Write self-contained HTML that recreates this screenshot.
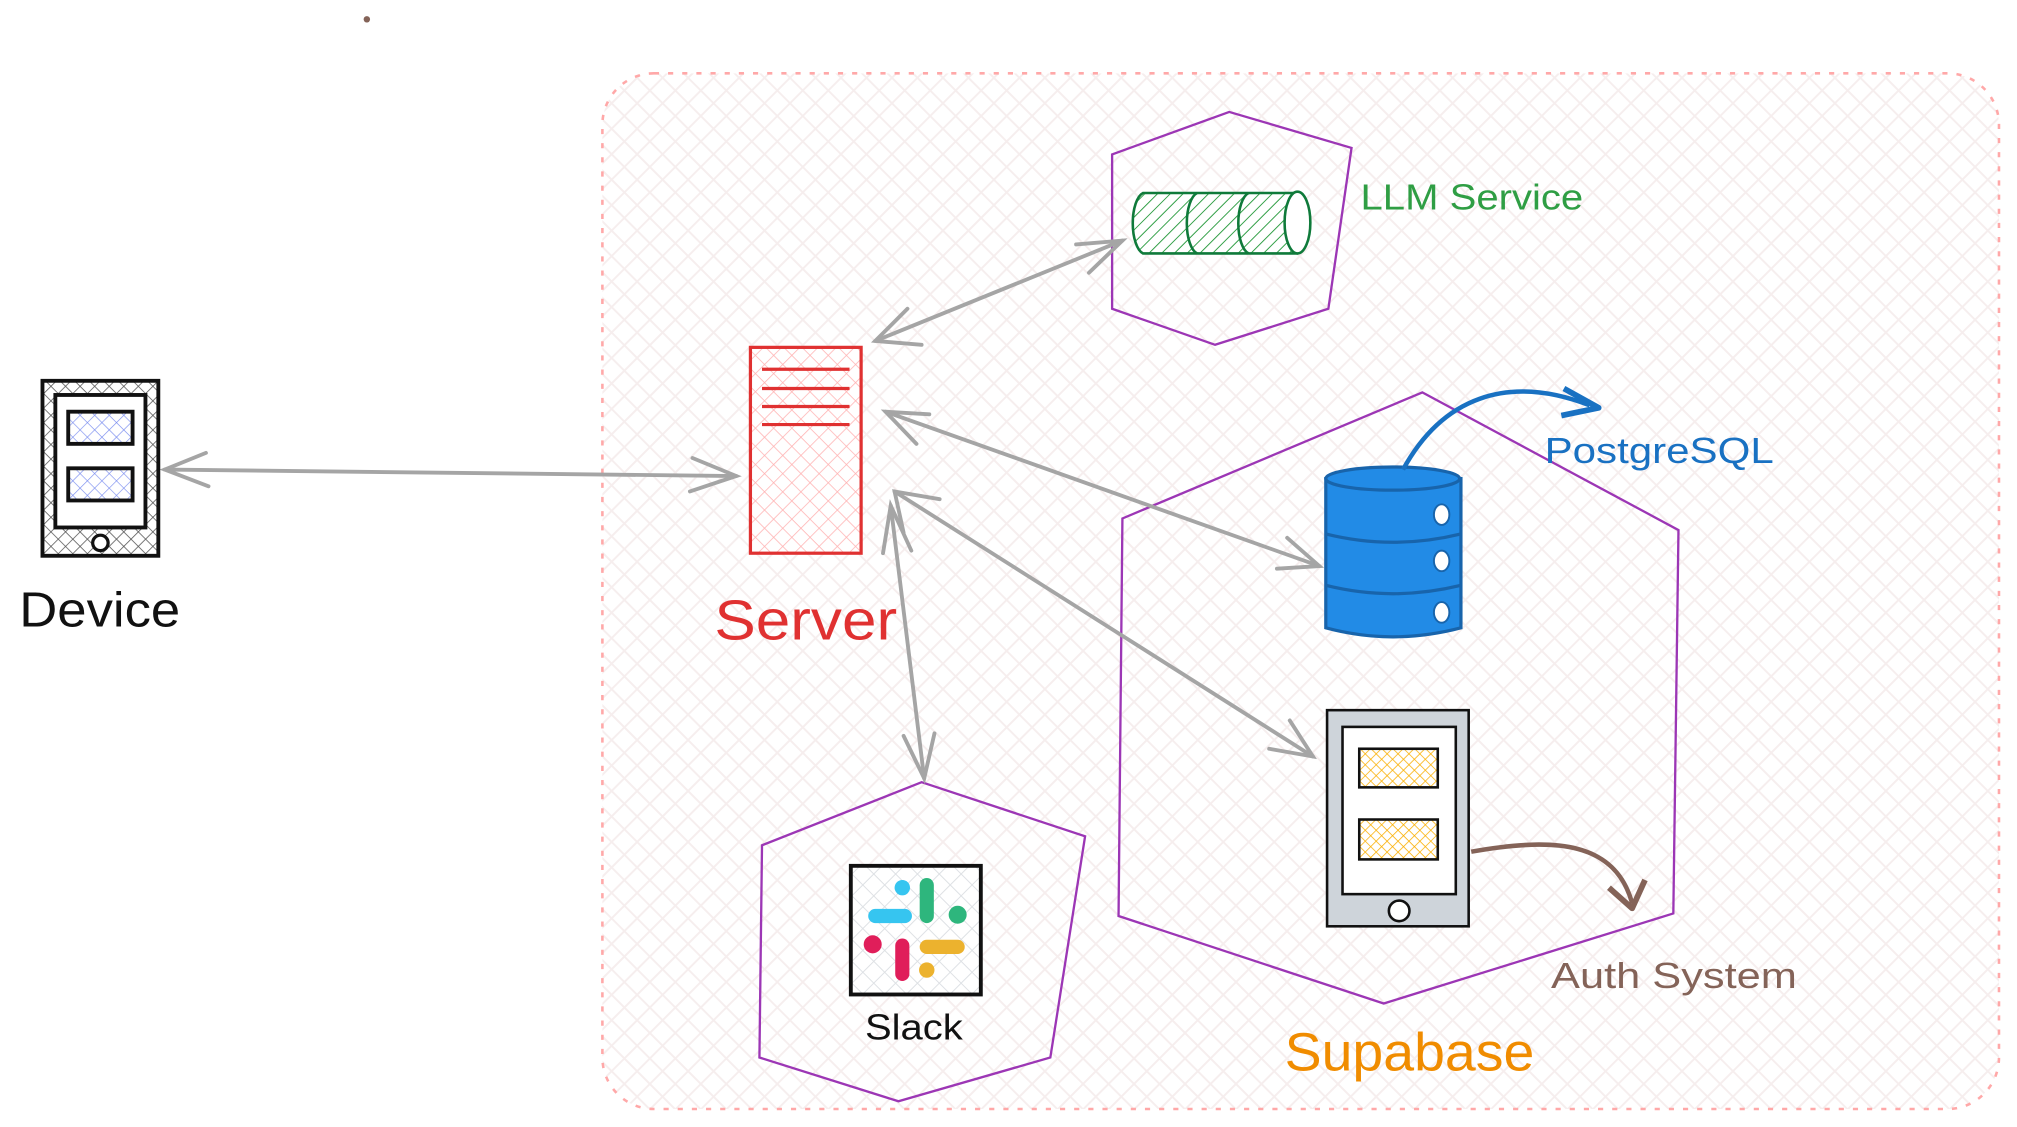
<!DOCTYPE html>
<html><head><meta charset="utf-8"><style>
html,body{margin:0;padding:0;background:#fff;width:2017px;height:1127px;overflow:hidden}
svg{display:block}
text{font-family:"Liberation Sans",sans-serif}
</style></head><body>
<svg width="2017" height="1127" viewBox="0 0 1567 876" preserveAspectRatio="none" xmlns="http://www.w3.org/2000/svg">
<defs>
<pattern id="bg" width="14" height="14" patternUnits="userSpaceOnUse" patternTransform="rotate(45)">
<rect width="14" height="14" fill="#fff"/>
<line x1="0" y1="0" x2="0" y2="14" stroke="#f6eeee" stroke-width="3"/>
<line x1="0" y1="0" x2="14" y2="0" stroke="#f6eeee" stroke-width="3"/>
</pattern>
<pattern id="red" width="10" height="10" patternUnits="userSpaceOnUse" patternTransform="rotate(45)">
<rect width="10" height="10" fill="#fff"/>
<line x1="0" y1="0" x2="0" y2="10" stroke="#ffb3b3" stroke-width="1.2"/>
<line x1="0" y1="0" x2="10" y2="0" stroke="#ffb3b3" stroke-width="1.2"/>
</pattern>
<pattern id="blk" width="8" height="8" patternUnits="userSpaceOnUse" patternTransform="rotate(45)">
<rect width="8" height="8" fill="#fff"/>
<line x1="0" y1="0" x2="0" y2="8" stroke="#555" stroke-width="1.2"/>
<line x1="0" y1="0" x2="8" y2="0" stroke="#555" stroke-width="1.2"/>
</pattern>
<pattern id="blu" width="8" height="8" patternUnits="userSpaceOnUse" patternTransform="rotate(45)">
<rect width="8" height="8" fill="#fff"/>
<line x1="0" y1="0" x2="0" y2="8" stroke="#7b8ef0" stroke-width="1"/>
<line x1="0" y1="0" x2="8" y2="0" stroke="#7b8ef0" stroke-width="1"/>
</pattern>
<pattern id="org" width="6" height="6" patternUnits="userSpaceOnUse" patternTransform="rotate(45)">
<rect width="6" height="6" fill="#fff"/>
<line x1="0" y1="0" x2="0" y2="6" stroke="#fab005" stroke-width="1.2"/>
<line x1="0" y1="0" x2="6" y2="0" stroke="#fab005" stroke-width="1.2"/>
</pattern>
<pattern id="grn" width="7" height="7" patternUnits="userSpaceOnUse" patternTransform="rotate(45)">
<rect width="7" height="7" fill="#fff"/>
<line x1="0" y1="0" x2="0" y2="7" stroke="#2f9e44" stroke-width="1.5"/>
</pattern>
<pattern id="gry" width="12" height="12" patternUnits="userSpaceOnUse" patternTransform="rotate(45)">
<rect width="12" height="12" fill="#fff"/>
<line x1="0" y1="0" x2="0" y2="12" stroke="#dde0e4" stroke-width="1.5"/>
<line x1="0" y1="0" x2="12" y2="0" stroke="#dde0e4" stroke-width="1.5"/>
</pattern>
</defs>
<circle cx="285" cy="15" r="2.5" fill="#846358"/>
<rect x="468" y="57" width="1085" height="805" rx="40" fill="url(#bg)" stroke="#ffa8a8" stroke-width="2" stroke-dasharray="4 7"/>

<g fill="none" stroke="#9c36b5" stroke-width="1.8">
<polygon points="955,87 1050,115 1032,240 944,268 864,240 864,120"/>
<polygon points="1105,305 1304,412 1300,710 1075,780 869,712 872,403"/>
<polygon points="716,608 843,650 816,822 698,856 590,822 592,657"/>
</g>

<g stroke="#a5a5a5" stroke-width="3" fill="none" stroke-linecap="round">
<path d="M128,365 L572,370"/><path d="M160,352 L128,365 L162,378"/><path d="M538,356 L572,370 L536,382"/>
<path d="M680,265 L872,187"/><path d="M716,268 L680,265 L705,240"/><path d="M836,190 L872,187 L846,212"/>
<path d="M688,320 L1025,440"/><path d="M712,345 L688,320 L722,322"/><path d="M1000,418 L1025,440 L992,442"/>
<path d="M695,382 L1020,588"/><path d="M702,414 L695,382 L730,388"/><path d="M1002,560 L1020,588 L986,582"/>
<path d="M692,393 L718,605"/><path d="M686,430 L692,393 L708,428"/><path d="M702,572 L718,605 L726,570"/>
</g>

<g stroke="#0f7a3a" stroke-width="2" fill="url(#grn)">
<path d="M888,150 L1008,150 A10,24 0 0 1 1008,197 L888,197 A10,24 0 0 1 888,150 Z"/>
<path d="M930,150 A10,24 0 0 0 930,197" fill="none"/>
<path d="M970,150 A10,24 0 0 0 970,197" fill="none"/>
<ellipse cx="1008" cy="173" rx="10" ry="24" fill="#fff"/>
</g>
<text x="1057" y="163" font-size="28" fill="#2f9e44" textLength="173" lengthAdjust="spacingAndGlyphs">LLM Service</text>

<rect x="583" y="270" width="86" height="160" fill="url(#red)" stroke="#e03131" stroke-width="2.5"/>
<g stroke="#e03131" stroke-width="2.5"><line x1="592" y1="287" x2="660" y2="287"/><line x1="592" y1="302" x2="660" y2="302"/><line x1="592" y1="316" x2="660" y2="316"/><line x1="592" y1="330" x2="660" y2="330"/></g>
<text x="555" y="497" font-size="44" fill="#e03131" textLength="142" lengthAdjust="spacingAndGlyphs">Server</text>

<rect x="33" y="296" width="90" height="136" fill="url(#blk)" stroke="#111" stroke-width="3"/>
<rect x="43" y="307" width="70" height="103" fill="#fff" stroke="#111" stroke-width="3"/>
<rect x="53" y="320" width="50" height="25" fill="url(#blu)" stroke="#111" stroke-width="3"/>
<rect x="53" y="364" width="50" height="25" fill="url(#blu)" stroke="#111" stroke-width="3"/>
<circle cx="78" cy="422" r="6" fill="#fff" stroke="#111" stroke-width="2.5"/>
<text x="15" y="487" font-size="38" fill="#111" textLength="125" lengthAdjust="spacingAndGlyphs">Device</text>

<g stroke="#1864ab" stroke-width="2.5" fill="#228be6">
<path d="M1030,372 L1030,488 Q1082,502 1135,488 L1135,372 Z"/>
<ellipse cx="1082" cy="372" rx="52" ry="9"/>
<path d="M1030,415 Q1082,428 1135,415" fill="none"/>
<path d="M1030,455 Q1082,468 1135,455" fill="none"/>
</g>
<g fill="#fff" stroke="#1864ab" stroke-width="1.5"><ellipse cx="1120" cy="400" rx="6" ry="8"/><ellipse cx="1120" cy="436" rx="6" ry="8"/><ellipse cx="1120" cy="476" rx="6" ry="8"/></g>
<path d="M1090,365 C1120,310 1170,290 1235,315" stroke="#1971c2" stroke-width="3.5" fill="none"/>
<path d="M1215,302 L1242,317 L1213,323" stroke="#1971c2" stroke-width="4.5" fill="none" stroke-linejoin="round"/>
<text x="1200" y="360" font-size="28" fill="#1971c2" textLength="178" lengthAdjust="spacingAndGlyphs">PostgreSQL</text>

<rect x="1031" y="552" width="110" height="168" fill="#ced4da" stroke="#111" stroke-width="2"/>
<rect x="1043" y="565" width="88" height="130" fill="#fff" stroke="#111" stroke-width="2"/>
<rect x="1056" y="582" width="61" height="30" fill="url(#org)" stroke="#111" stroke-width="2"/>
<rect x="1056" y="637" width="61" height="31" fill="url(#org)" stroke="#111" stroke-width="2"/>
<circle cx="1087" cy="708" r="8" fill="#fff" stroke="#111" stroke-width="2"/>
<path d="M1143,662 C1210,650 1255,655 1268,702" stroke="#846358" stroke-width="3.5" fill="none"/>
<path d="M1250,690 L1268,706 L1278,684" stroke="#846358" stroke-width="4.5" fill="none" stroke-linejoin="round"/>
<text x="1205" y="768" font-size="28" fill="#846358" textLength="191" lengthAdjust="spacingAndGlyphs">Auth System</text>
<text x="998" y="832" font-size="42" fill="#f08c00" textLength="194" lengthAdjust="spacingAndGlyphs">Supabase</text>

<rect x="661" y="673" width="101" height="100" fill="url(#gry)" stroke="#111" stroke-width="3"/>
<g stroke-linecap="round" fill="none" stroke-width="11">
<line x1="680" y1="712" x2="703" y2="712" stroke="#36c5f0"/>
<line x1="720" y1="688" x2="720" y2="712" stroke="#2eb67d"/>
<line x1="720" y1="736" x2="744" y2="736" stroke="#ecb22e"/>
<line x1="701" y1="735" x2="701" y2="757" stroke="#e01e5a"/>
</g>
<circle cx="701" cy="690" r="6" fill="#36c5f0"/>
<circle cx="744" cy="711" r="7" fill="#2eb67d"/>
<circle cx="720" cy="754" r="6" fill="#ecb22e"/>
<circle cx="678" cy="734" r="7" fill="#e01e5a"/>
<text x="672" y="808" font-size="28" fill="#111" textLength="76" lengthAdjust="spacingAndGlyphs">Slack</text>
</svg>
</body></html>
